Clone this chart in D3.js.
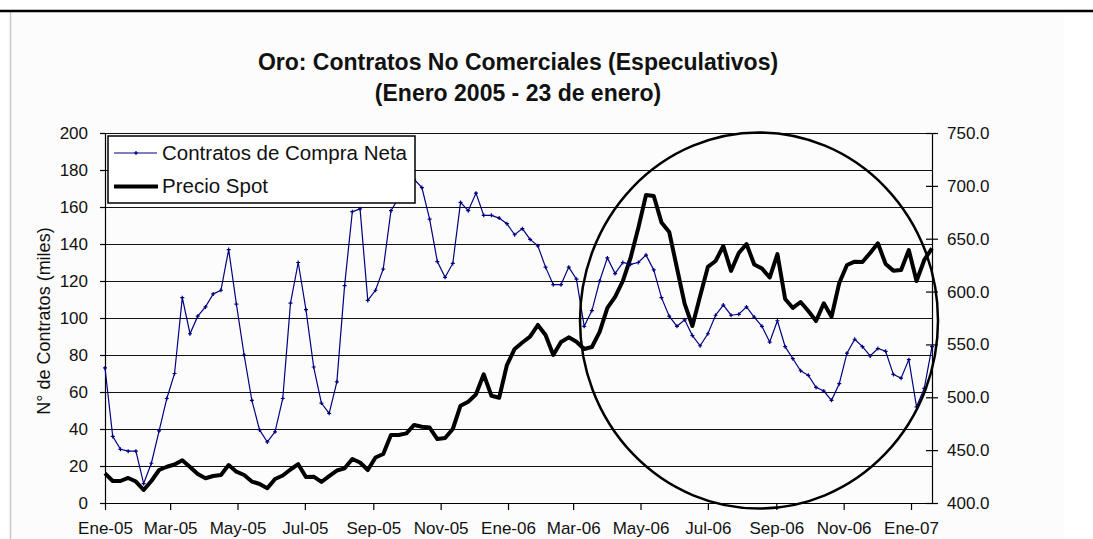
<!DOCTYPE html>
<html>
<head>
<meta charset="utf-8">
<script src="https://cdn.jsdelivr.net/npm/d3@7"></script>
<style>
  body { margin: 0; background: #fff; }
  svg { display: block; font-family: "Liberation Sans", Arial, sans-serif; }
</style>
</head>
<body>
<div id="chart"></div>
<script>
// weekly data, 4 Jan 2005 - 23 Jan 2007
let firstWeek = new Date(2005, 0, 4);
let lastWeek = new Date(2007, 0, 23);

// net long non-commercial contracts (thousands)
let contratos = [
  73, 36, 29, 28, 28, 10.5, 21.5, 39, 56.5, 70,
  111, 91.5, 101, 106, 113, 115, 137, 107.5, 80, 55.5,
  39.5, 33, 38.5, 56.5, 108, 130, 104.5, 73.5, 54, 48.5,
  65.5, 117.5, 157.5, 159, 109.5, 115, 126.5, 158, 165, 172,
  175, 170.5, 153.5, 130.5, 122, 129.5, 162.5, 158, 167.5, 155.5,
  155.5, 154, 151, 145, 148.3, 142.5, 139, 127.5, 118, 118,
  127.5, 121, 95.5, 104, 120, 132.5, 124, 130, 129, 130,
  134, 126, 111, 101, 95.5, 99, 90.5, 85, 91.5, 101.5,
  107, 101.5, 102, 106, 100.5, 95.5, 87, 98.5, 84.5, 78,
  71.5, 69, 62.5, 60.5, 55.5, 64.5, 81, 88.5, 84.5, 79.5,
  83.5, 82, 69.5, 67.5, 77.5, 52, 62, 84.5
];

// gold spot price (USD)
let precioSpot = [
  428.1, 420.8, 420.8, 423.7, 420.3, 412.3, 420.8, 431.2, 434.3, 436.4,
  440.4, 434.1, 427.4, 423.4, 425.5, 426.5, 435.9, 429.6, 426.5, 420.3,
  418, 413.9, 422.7, 426, 431.7, 436.7, 424.6, 424.9, 419.9, 425.5,
  430.7, 432.8, 441.6, 438.3, 431.2, 443, 446.4, 464.3, 464.3, 465.9,
  473.8, 472.2, 471.4, 460.5, 461.5, 470, 492, 495.8, 502.8, 521.7,
  501.5, 499.6, 530.5, 545.7, 551.8, 557.3, 568.4, 558.9, 540, 552.3,
  556.7, 552.6, 545.7, 547.6, 561.8, 584.5, 594.9, 610, 631.8, 660.2,
  691.4, 690.4, 665.4, 656.4, 622.3, 588.3, 567.4, 595.8, 623.3, 628.9,
  643.1, 619.5, 636.5, 645, 625.6, 621.8, 613.3, 635.5, 593, 584.5,
  590.1, 581.6, 572.2, 588.9, 576.2, 608.1, 625.1, 628.3, 628, 636.5,
  645.7, 626.1, 619.8, 620.4, 639.3, 610, 629.9, 640.9
];

let fechas = contratos.map((d, i) => d3.timeWeek.offset(firstWeek, i));

let leftTicks = d3.range(0, 201, 20);
let rightTicks = d3.range(400, 751, 50);
let mesesEs = ["Ene", "Feb", "Mar", "Abr", "May", "Jun", "Jul", "Ago", "Sep", "Oct", "Nov", "Dic"];
let xTicks = d3.range(0, 13).map(k => d3.timeMonth.offset(firstWeek, 2 * k));

let titulo1 = "Oro: Contratos No Comerciales (Especulativos)";
let titulo2 = "(Enero 2005 - 23 de enero)";
let yTitulo = "N° de Contratos (miles)";
let serieNombres = ["Contratos de Compra Neta", "Precio Spot"];

let svgWidth = 1093;
let svgHeight = 539;
let plot = { left: 105, right: 932, top: 133, bottom: 503 };
let azul = "#000080";

let svg = d3.select("#chart")
  .append("svg")
  .attr("width", svgWidth)
  .attr("height", svgHeight);

// background frame
svg.append("rect")
  .attr("x", 11).attr("y", 12)
  .attr("width", 1053).attr("height", svgHeight - 12)
  .attr("fill", "#fcfcfc");
svg.append("line")
  .attr("x1", 10.5).attr("x2", 10.5).attr("y1", 12).attr("y2", svgHeight)
  .attr("stroke", "#c8c8c8").attr("stroke-width", 1.5);
svg.append("line")
  .attr("x1", 0).attr("x2", svgWidth).attr("y1", 11).attr("y2", 11)
  .attr("stroke", "#000").attr("stroke-width", 2.5);

// scales
let x = d3.scaleTime().domain([firstWeek, lastWeek]).range([plot.left, plot.right]);
let yL = d3.scaleLinear().domain([0, 200]).range([plot.bottom, plot.top]);
let yR = d3.scaleLinear().domain([400, 750]).range([plot.bottom, plot.top]);

// gridlines
svg.append("g")
  .selectAll("line")
  .data(leftTicks.filter(d => d > 0))
  .enter()
  .append("line")
    .attr("x1", plot.left).attr("x2", plot.right)
    .attr("y1", d => Math.round(yL(d)) + 0.5)
    .attr("y2", d => Math.round(yL(d)) + 0.5)
    .attr("stroke", "#111")
    .attr("stroke-width", 1);

// axes
let leftAxis = d3.axisLeft(yL).tickValues(leftTicks).tickSizeInner(5).tickSizeOuter(0).tickPadding(12);
let rightAxis = d3.axisRight(yR).tickValues(rightTicks).tickSizeInner(6).tickSizeOuter(0).tickPadding(9)
  .tickFormat(d3.format(".1f"));
let bottomAxis = d3.axisBottom(x).tickValues(xTicks).tickSizeInner(7).tickSizeOuter(0).tickPadding(12)
  .tickFormat(d => mesesEs[d.getMonth()] + "-" + d3.timeFormat("%y")(d));

let gL = svg.append("g").attr("transform", `translate(${plot.left},0)`).call(leftAxis);
let gR = svg.append("g").attr("transform", `translate(${plot.right},0)`).call(rightAxis);
gR.selectAll(".tick line").attr("x1", -6);
let gB = svg.append("g").attr("transform", `translate(0,${plot.bottom})`).call(bottomAxis);

[gL, gR, gB].forEach(g => {
  g.selectAll("text").attr("font-size", 17).attr("fill", "#111")
    .attr("font-family", "'Liberation Sans', Arial, sans-serif");
  g.selectAll("path, line").attr("stroke", "#000").attr("stroke-width", 1.2);
});

// series: gold price
let goldLine = d3.line()
  .x((d, i) => x(fechas[i]))
  .y(d => yR(d));

svg.append("path")
  .datum(precioSpot)
  .attr("d", goldLine)
  .attr("fill", "none")
  .attr("stroke", "#000")
  .attr("stroke-width", 4)
  .attr("stroke-linejoin", "round");

// series: net contracts
let contratosLine = d3.line()
  .x((d, i) => x(fechas[i]))
  .y(d => yL(d));

svg.append("path")
  .datum(contratos)
  .attr("d", contratosLine)
  .attr("fill", "none")
  .attr("stroke", azul)
  .attr("stroke-width", 1.2);

svg.append("g")
  .selectAll("path")
  .data(contratos)
  .enter()
  .append("path")
    .attr("transform", (d, i) => `translate(${x(fechas[i])},${yL(d)})`)
    .attr("d", "M-2,0H2M0,-2V2")
    .attr("stroke", azul)
    .attr("stroke-width", 1.2);

// legend
let legend = svg.append("g");
legend.append("rect")
  .attr("x", 108).attr("y", 136)
  .attr("width", 307).attr("height", 67)
  .attr("fill", "#fff")
  .attr("stroke", "#000")
  .attr("stroke-width", 1.5);
legend.append("line")
  .attr("x1", 114).attr("x2", 157).attr("y1", 153).attr("y2", 153)
  .attr("stroke", azul).attr("stroke-width", 1.2);
legend.append("path")
  .attr("transform", "translate(136,153)")
  .attr("d", "M-2,0H2M0,-2V2")
  .attr("stroke", azul).attr("stroke-width", 1.2);
legend.append("line")
  .attr("x1", 114).attr("x2", 158).attr("y1", 186.5).attr("y2", 186.5)
  .attr("stroke", "#000").attr("stroke-width", 4);
legend.selectAll("text")
  .data(serieNombres)
  .enter()
  .append("text")
    .attr("x", 162)
    .attr("y", (d, i) => 160 + i * 33)
    .attr("font-size", 20.5)
    .attr("fill", "#111")
    .text(d => d);

// highlight ellipse
svg.append("ellipse")
  .attr("cx", 759).attr("cy", 320.5)
  .attr("rx", 179).attr("ry", 188)
  .attr("fill", "none")
  .attr("stroke", "#000")
  .attr("stroke-width", 2.5);

// titles
svg.append("text")
  .attr("x", 518).attr("y", 70)
  .attr("text-anchor", "middle")
  .attr("font-size", 23).attr("font-weight", "bold")
  .attr("fill", "#111")
  .text(titulo1);
svg.append("text")
  .attr("x", 518).attr("y", 101)
  .attr("text-anchor", "middle")
  .attr("font-size", 23).attr("font-weight", "bold")
  .attr("fill", "#111")
  .text(titulo2);

svg.append("text")
  .attr("transform", "translate(50,321) rotate(-90)")
  .attr("text-anchor", "middle")
  .attr("font-size", 18)
  .attr("fill", "#111")
  .text(yTitulo);
</script>
</body>
</html>
